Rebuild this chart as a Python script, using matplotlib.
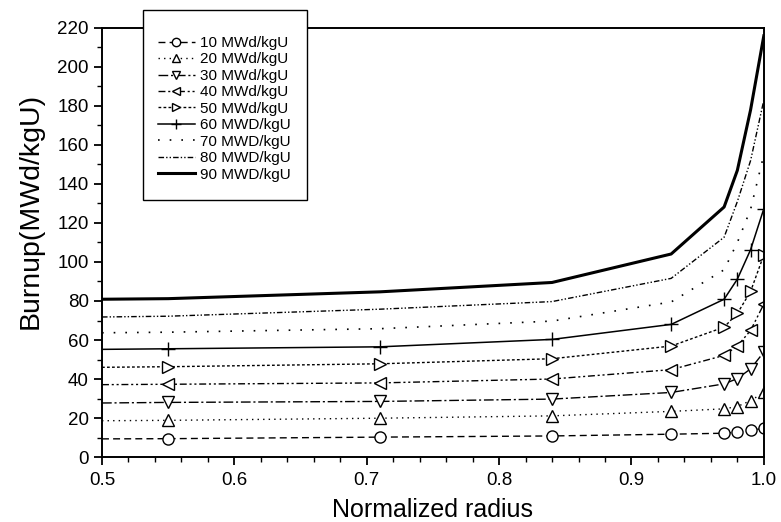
import numpy as np
import matplotlib.pyplot as plt
from matplotlib.patches import Rectangle
from matplotlib.ticker import MultipleLocator

plt.rcParams['font.family'] = ['Liberation Sans', 'DejaVu Sans']

# radial positions and burnup for each average-burnup case
radius = [0.5, 0.55, 0.71, 0.84, 0.93, 0.97, 0.98, 0.99, 1.0]
bu10 = [9.3, 9.4, 10.2, 10.8, 11.7, 12.2, 12.7, 13.6, 14.8]
bu20 = [18.6, 18.8, 19.9, 21.1, 23.4, 24.7, 25.9, 28.9, 33.1]
bu30 = [27.7, 28.0, 28.5, 29.7, 33.1, 37.5, 40.2, 45.2, 53.8]
bu40 = [37.1, 37.3, 38.0, 40.0, 44.8, 52.1, 56.9, 64.9, 78.4]
bu50 = [46.0, 46.3, 47.8, 50.4, 56.9, 66.6, 73.6, 84.9, 103.6]
bu60 = [55.2, 55.5, 56.5, 60.3, 68.0, 80.9, 91.2, 106.3, 127.3]
bu70 = [63.7, 64.0, 65.8, 69.7, 79.5, 96.0, 110.0, 127.0, 155.0]
bu80 = [71.8, 72.2, 75.8, 79.7, 91.6, 112.7, 131.0, 152.0, 183.0]
bu90 = [80.9, 81.2, 84.7, 89.5, 104.1, 128.2, 147.0, 178.0, 216.0]

labels = ["10 MWd/kgU", "20 MWd/kgU", "30 MWd/kgU", "40 MWd/kgU",
          "50 MWd/kgU", "60 MWD/kgU", "70 MWD/kgU", "80 MWD/kgU",
          "90 MWD/kgU"]

styles = [
    dict(ls=(0, (5, 3)), marker="o", lw=1.0),
    dict(ls=(0, (1, 3)), marker="^", lw=1.0),
    dict(ls=(0, (7, 2, 1.5, 2)), marker="v", lw=1.0),
    dict(ls=(0, (5, 2, 1.5, 2, 1.5, 2)), marker="<", lw=1.0),
    dict(ls=(0, (2, 1.6)), marker=">", lw=1.0),
    dict(ls="-", marker="+", lw=1.1),
    dict(ls=(0, (1, 6)), marker=None, lw=1.2),
    dict(ls=(0, (4, 1.5, 1, 1.5, 1, 1.5)), marker=None, lw=1.0),
    dict(ls="-", marker=None, lw=2.2),
]

fig = plt.figure(figsize=(7.81, 5.22), dpi=100)
ax = fig.add_axes([0.1306, 0.1245, 0.8474, 0.8219])

series = [bu10, bu20, bu30, bu40, bu50, bu60, bu70, bu80, bu90]
handles = []
for y, lab, st in zip(series, labels, styles):
    h, = ax.plot(radius, y, color="black", linestyle=st["ls"], lw=st["lw"],
                 marker=st["marker"], markevery=slice(1, None),
                 markersize=8 if st["marker"] != "+" else 10,
                 markerfacecolor="white", markeredgecolor="black",
                 markeredgewidth=1.0, label=lab)
    handles.append(h)

ax.set_xlim(0.5, 1.0)
ax.set_ylim(0, 220)
ax.xaxis.set_major_locator(MultipleLocator(0.1))
ax.xaxis.set_minor_locator(MultipleLocator(0.02))
ax.yaxis.set_major_locator(MultipleLocator(20))
ax.yaxis.set_minor_locator(MultipleLocator(10))
ax.tick_params(which="major", direction="out", length=6, width=1.3,
               labelsize=13.5, top=False, right=False)
ax.tick_params(axis="x", which="major", pad=5)
ax.tick_params(which="minor", direction="out", length=3.5, width=1.0,
               top=False, right=False)
for sp in ax.spines.values():
    sp.set_linewidth(1.4)

ax.set_xlabel("Normalized radius", fontsize=18, labelpad=6)
ax.set_ylabel("Burnup(MWd/kgU)", fontsize=20.5)
ax.yaxis.set_label_coords(-0.088, 0.573)

# legend box sits over the top spine
frame = Rectangle((143 / 781, 1 - 200 / 522), 164 / 781, 190 / 522,
                  transform=fig.transFigure, facecolor="white",
                  edgecolor="black", lw=1.0, zorder=3)
fig.add_artist(frame)
leg = fig.legend(handles, labels, loc="upper left",
                 bbox_to_anchor=(158 / 781, 1 - 36 / 522),
                 borderaxespad=0, borderpad=0, frameon=False,
                 fontsize=11, handlelength=2.4, handletextpad=0.33,
                 labelspacing=0.16, markerscale=0.75)
leg.set_zorder(4)

fig.savefig("out.png", dpi=100)
